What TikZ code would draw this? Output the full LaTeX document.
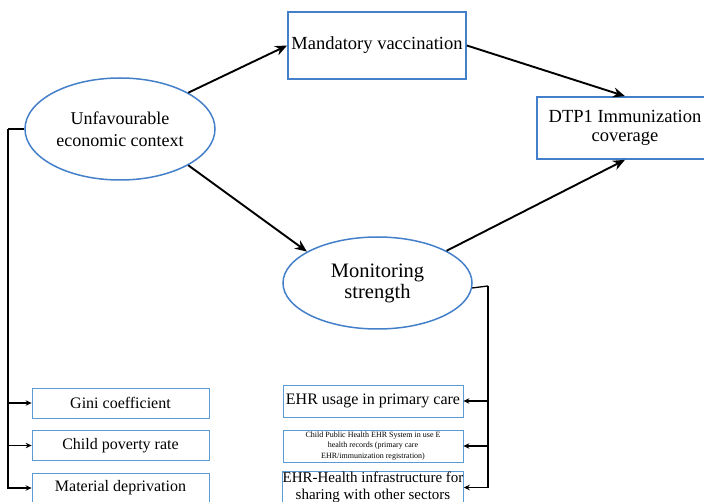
\documentclass[tikz,border=0pt]{standalone}
\usepackage{fontspec}
\setmainfont{Liberation Serif}
\usetikzlibrary{shapes.geometric,arrows.meta}
\definecolor{boxblue}{HTML}{4480CA}
\definecolor{smallblue}{HTML}{5B9BD5}
\begin{document}
\begin{tikzpicture}[x=1pt,y=-1pt,
 bigbox/.style={draw=boxblue,line width=1.7pt,inner sep=0pt,align=center},
 ell/.style={ellipse,draw=boxblue,line width=1.5pt,inner sep=0pt,align=center},
 smallbox/.style={draw=smallblue,line width=0.8pt,minimum width=177pt,minimum height=30pt,inner sep=0pt,align=center,font=\fontsize{16}{18}\selectfont},
 rbox/.style={smallbox,minimum width=180pt,minimum height=32pt},
 bigarrow/.style={line width=1.9pt,-{Stealth[length=12pt,width=10pt]}},
 sidearrow/.style={line width=1.3pt,-{Stealth[length=6pt,width=5.5pt]}},
 sideline/.style={line width=1.3pt}]
\useasboundingbox (0,0) rectangle (704,502);
\node[bigbox,minimum width=178pt,minimum height=67pt,font=\fontsize{18.5}{20}\selectfont] (mand) at (377,45.5) {Mandatory vaccination};
\node[bigbox,minimum width=176pt,minimum height=62pt,font=\fontsize{18.5}{19.5}\selectfont] (dtp) at (625,128) {DTP1 Immunization\\coverage};
\node[ell,minimum width=190pt,minimum height=102pt,font=\fontsize{18}{22}\selectfont] (unf) at (120,129) {Unfavourable\\economic context};
\node[ell,minimum width=189pt,minimum height=92pt,font=\fontsize{20.5}{21}\selectfont] (mon) at (377.5,283) {Monitoring\\strength};
% left boxes
\node[smallbox] (gini) at (120.5,403) {Gini coefficient};
\node[smallbox] (pov) at (120.5,445.5) {Child poverty rate};
\node[smallbox] (mat) at (120.5,488) {Material deprivation};
% right boxes
\node[rbox] (ehr1) at (373,401) {EHR usage in primary care};
\node[rbox,font=\fontsize{8}{10.5}\selectfont] (ehr2) at (373,446) {Child Public Health EHR System in use E\\health records (primary care\\EHR/immunization registration)};
\node[rbox,font=\fontsize{15}{16.5}\selectfont] (ehr3) at (373,487.5) {EHR-Health infrastructure for\\sharing with other sectors};
% main arrows
\draw[bigarrow] (unf.28) -- (mand.west);
\draw[bigarrow] (mand.east) -- (dtp.north);
\draw[bigarrow] (unf.-28) -- (mon.156);
\draw[bigarrow] (mon.25) -- (dtp.south);
% left connector
\coordinate (lc) at (8,129);
\draw[sideline] (unf.west) -- (lc);
\draw[sidearrow] (lc) |- (gini.west);
\draw[sidearrow] (lc) |- (pov.west);
\draw[sidearrow] (lc) |- (mat.west);
% right connector
\coordinate (rc) at (488,286);
\draw[sideline] (mon.-3) -- (rc);
\draw[sidearrow] (rc) |- (ehr1.east);
\draw[sidearrow] (rc) |- (ehr2.east);
\draw[sidearrow] (rc) |- (ehr3.east);
\end{tikzpicture}
\end{document}
